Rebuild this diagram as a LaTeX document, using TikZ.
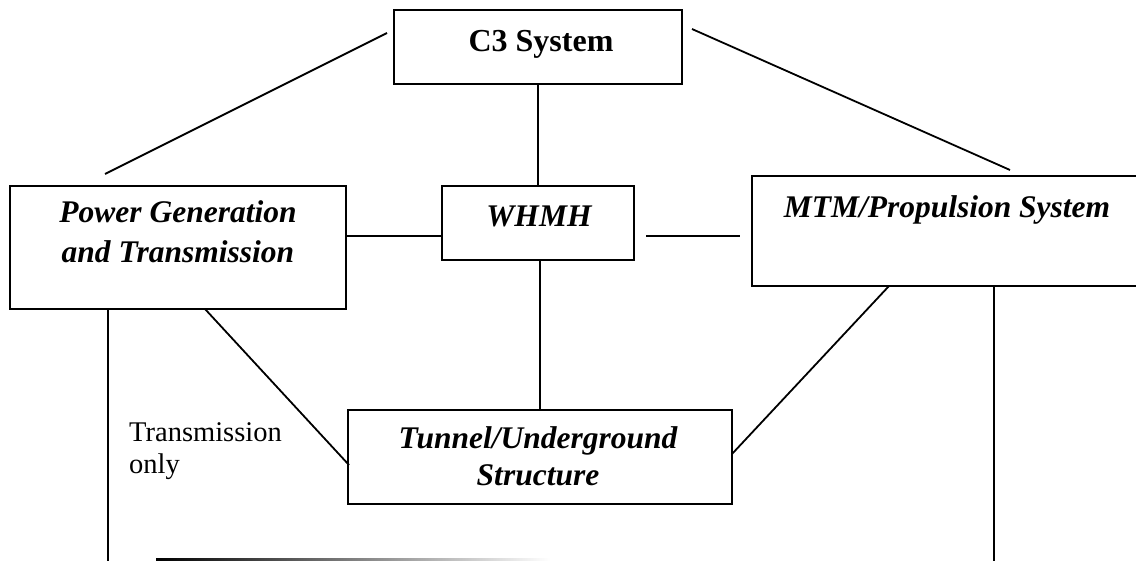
\documentclass[tikz,border=0pt]{standalone}
\usepackage{fontspec}
\setmainfont{Liberation Serif}
\usetikzlibrary{calc}
\tikzset{
  box/.style={draw, line width=2.4pt, inner sep=0pt},
  conn/.style={line width=1.8pt},
  title/.style={font=\fontsize{31.5}{36}\selectfont\bfseries\itshape, anchor=base, inner sep=0pt},
  titleup/.style={font=\fontsize{32}{36}\selectfont\bfseries, anchor=base, inner sep=0pt},
  note/.style={font=\fontsize{28.5}{32}\selectfont, anchor=base west, inner sep=0pt}
}
\begin{document}
\begin{tikzpicture}[x=1pt, y=-1pt]
\useasboundingbox (0,0) rectangle (1136,561);
\clip (0,0) rectangle (1136,561);
\fill[white] (0,0) rectangle (1136,561);
% boxes
\node[box, minimum width=288pt, minimum height=74pt] (c3) at (538,47) {};
\node[box, minimum width=336pt, minimum height=123pt] (power) at (178,247.5) {};
\node[box, minimum width=192pt, minimum height=74pt] (whmh) at (538,223) {};
\node[box, minimum width=398pt, minimum height=110pt] (mtm) at (951,231) {};
\node[box, minimum width=384pt, minimum height=94pt] (tunnel) at (540,457) {};
% texts
\node[titleup] (c3t) at (541,52) {C3 System};
\node[title] (pw1) at (178,223) {Power Generation};
\node[title] (pw2) at (178,263) {and Transmission};
\node[title] (wht) at (539,227) {WHMH};
\node[title] (mtmt) at (947,218) {MTM/Propulsion System};
\node[title] (tu1) at (538,449) {Tunnel/Underground};
\node[title] (tu2) at (538,485) {Structure};
\node[note] (tr1) at (129,442) {Transmission};
\node[note] (tr2) at (129,473) {only};
% free ends
\coordinate (a1) at (387,33);
\coordinate (a2) at (105,174);
\coordinate (b1) at (692,29);
\coordinate (b2) at (1010,170);
\coordinate (h1) at (0,236);
\coordinate (m1) at (646,236);
\coordinate (m2) at (740,236);
\coordinate (pd) at (205,309);
\coordinate (pv) at (108,309);
\coordinate (md) at (889,286);
\coordinate (mv) at (994,286);
\coordinate (bot) at (0,565);
\coordinate (tl) at (349,465);
\coordinate (tr) at (732,454);
% connectors
\draw[conn] (a1) -- (a2);
\draw[conn] (b1) -- (b2);
\draw[conn] (c3.south) -- (whmh.north);
\draw[conn] (power.east |- h1) -- (whmh.west |- h1);
\draw[conn] (m1) -- (m2);
\draw[conn] (tunnel.north) -- (tunnel.north |- whmh.south);
\draw[conn] (pd) -- (tl);
\draw[conn] (pv) -- (pv |- bot);
\draw[conn] (md) -- (tr);
\draw[conn] (mv) -- (mv |- bot);
% faded bottom line
\shade[left color=black, right color=white] (156,558.5) rectangle (550,561.5);
\end{tikzpicture}
\end{document}
